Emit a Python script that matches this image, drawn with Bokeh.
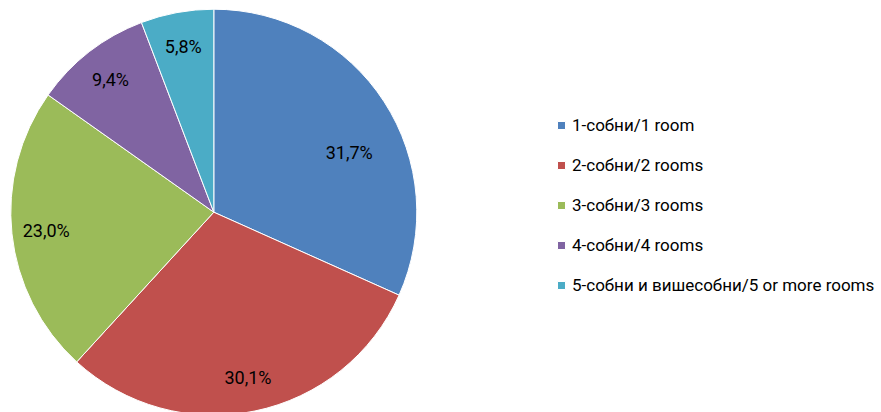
import math
from bokeh.plotting import figure
from bokeh.models import Range1d, ColumnDataSource, Legend, LegendItem
from bokeh.core.properties import value
from bokeh.embed import file_html
from bokeh.resources import INLINE

categories = ["1-собни/1 room", "2-собни/2 rooms", "3-собни/3 rooms",
              "4-собни/4 rooms", "5-собни и вишесобни/5 or more rooms"]
shares = [31.7, 30.1, 23.0, 9.4, 5.8]
labels = ["31,7%", "30,1%", "23,0%", "9,4%", "5,8%"]
colors = ["#4F81BD", "#C0504D", "#9BBB59", "#8064A2", "#4BACC6"]

W, H = 881, 412
CX, CY, R = 213.3, H - 211.7, 203.0
FONT = "Roboto"

total = sum(shares)
starts, ends, lx, ly = [], [], [], []
cum = 0.0
for i, s in enumerate(shares):
    a0 = math.pi / 2 - 2 * math.pi * cum / total
    cum += s
    a1 = math.pi / 2 - 2 * math.pi * cum / total
    starts.append(a0)
    ends.append(a1)
    mid = (a0 + a1) / 2
    rf = 0.83
    if i == 0:  # Excel's best-fit placement pushes this label lower/inwards
        mid -= math.radians(9)
        rf = 0.73
    lx.append(CX + rf * R * math.cos(mid))
    ly.append(CY + rf * R * math.sin(mid))

src = ColumnDataSource(dict(lx=lx, ly=ly, lab=labels))

p = figure(width=W, height=H, x_range=Range1d(0, W), y_range=Range1d(0, H),
           output_backend="svg", toolbar_location=None, min_border=0,
           background_fill_color="white", border_fill_color="white")
p.axis.visible = False
p.grid.visible = False
p.outline_line_color = None

rends = []
for i in range(len(shares)):
    r = p.wedge(x=CX, y=CY, radius=R, start_angle=starts[i], end_angle=ends[i],
                direction="clock", fill_color=colors[i], line_color="white",
                line_width=1)
    rends.append(r)

p.text(x="lx", y="ly", text="lab", source=src, text_align="center",
       text_baseline="middle", text_font=value(FONT), text_font_size="18px",
       text_color="#000000")

legend = Legend(items=[LegendItem(label=categories[i], renderers=[rends[i]])
                       for i in range(len(shares))],
                location=(556, 117), orientation="vertical",
                glyph_width=10, glyph_height=10, label_height=20,
                spacing=20, padding=0, margin=0, label_standoff=6,
                label_text_font=FONT, label_text_font_size="17px",
                label_text_color="#000000",
                border_line_color=None, background_fill_alpha=0)
p.add_layout(legend, "center")

open("out.html", "w").write(file_html(p, INLINE))
